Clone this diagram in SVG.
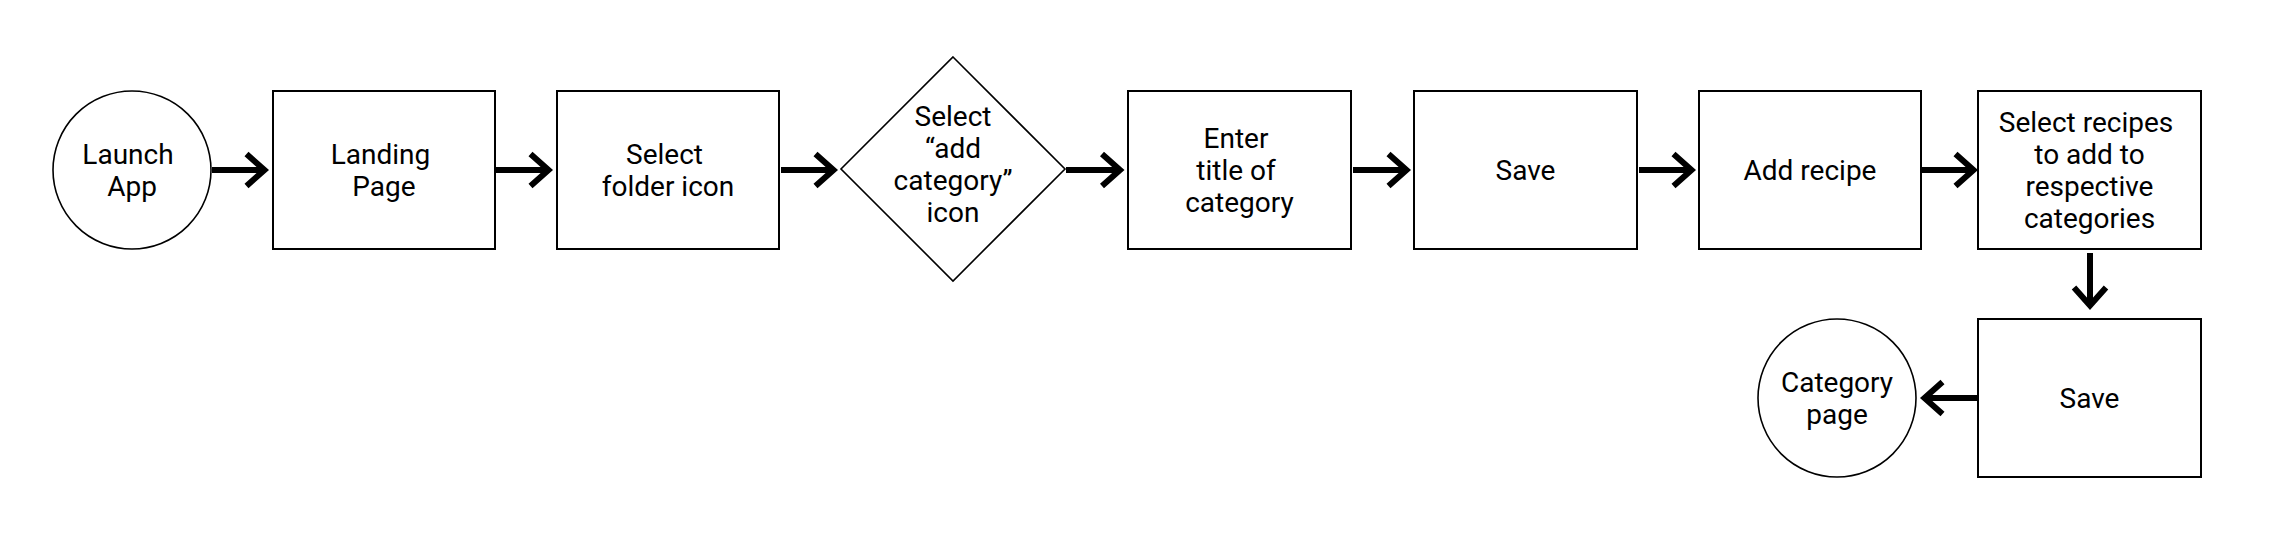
<svg xmlns="http://www.w3.org/2000/svg" width="2285" height="537" viewBox="0 0 2285 537">
<style>
.box{fill:#fff;stroke:#000;stroke-width:2}
.ell{fill:#fff;stroke:#000;stroke-width:1.6}
.t{font-family:Roboto,"Liberation Sans",Arial,sans-serif;font-size:28px;fill:#000;text-anchor:middle}
.c{fill:none;stroke:#000;stroke-width:6}
</style>
<defs>
<marker id="ah" markerUnits="userSpaceOnUse" markerWidth="40" markerHeight="50" viewBox="-24 -25 30 50" refX="0" refY="0" orient="auto">
<path d="M -18 -16 L 0 0 L -18 16" fill="none" stroke="#000" stroke-width="6" stroke-linejoin="miter"/>
</marker>
</defs>
<rect width="2285" height="537" fill="#fff"/>
<g id="launch-app">
<circle class="ell" cx="132" cy="170" r="79"/>
<text class="t" x="128" y="164">Launch</text>
<text class="t" x="132" y="196">App</text>
</g>
<g id="landing-page">
<rect class="box" x="273" y="91" width="222" height="158"/>
<text class="t" x="380.5" y="164">Landing</text>
<text class="t" x="384" y="196">Page</text>
</g>
<g id="select-folder">
<rect class="box" x="557" y="91" width="222" height="158"/>
<text class="t" x="664.5" y="164">Select</text>
<text class="t" x="668" y="196">folder icon</text>
</g>
<g id="select-add-category">
<polygon class="ell" points="953,57 1065,169 953,281 841,169"/>
<text class="t" x="953" y="126">Select</text>
<text class="t" x="953" y="158">“add</text>
<text class="t" x="953" y="190">category”</text>
<text class="t" x="953" y="222">icon</text>
</g>
<g id="enter-title">
<rect class="box" x="1128" y="91" width="223" height="158"/>
<text class="t" x="1236" y="148">Enter</text>
<text class="t" x="1236" y="180">title of</text>
<text class="t" x="1239.5" y="212">category</text>
</g>
<g id="save-1">
<rect class="box" x="1414" y="91" width="223" height="158"/>
<text class="t" x="1525.5" y="180">Save</text>
</g>
<g id="add-recipe">
<rect class="box" x="1699" y="91" width="222" height="158"/>
<text class="t" x="1810" y="180">Add recipe</text>
</g>
<g id="select-recipes">
<rect class="box" x="1978" y="91" width="223" height="158"/>
<text class="t" x="2086" y="132">Select recipes</text>
<text class="t" x="2089.5" y="164">to add to</text>
<text class="t" x="2089.5" y="196">respective</text>
<text class="t" x="2089.5" y="228">categories</text>
</g>
<g id="save-2">
<rect class="box" x="1978" y="319" width="223" height="158"/>
<text class="t" x="2089.5" y="408">Save</text>
</g>
<g id="category-page">
<circle class="ell" cx="1837" cy="398" r="79"/>
<text class="t" x="1837" y="392">Category</text>
<text class="t" x="1837" y="424">page</text>
</g>
<g id="connectors">
<path class="c" d="M 212 170 H 264.5" marker-end="url(#ah)"/>
<path class="c" d="M 496 170 H 548.5" marker-end="url(#ah)"/>
<path class="c" d="M 781 170 H 833.5" marker-end="url(#ah)"/>
<path class="c" d="M 1066 170 H 1120" marker-end="url(#ah)"/>
<path class="c" d="M 1353 170 H 1406.5" marker-end="url(#ah)"/>
<path class="c" d="M 1639 170 H 1691.5" marker-end="url(#ah)"/>
<path class="c" d="M 1922 170 H 1973.5" marker-end="url(#ah)"/>
<path class="c" d="M 2090 253 V 305.5" marker-end="url(#ah)"/>
<path class="c" d="M 1977 398 H 1924.5" marker-end="url(#ah)"/>
</g>
</svg>
